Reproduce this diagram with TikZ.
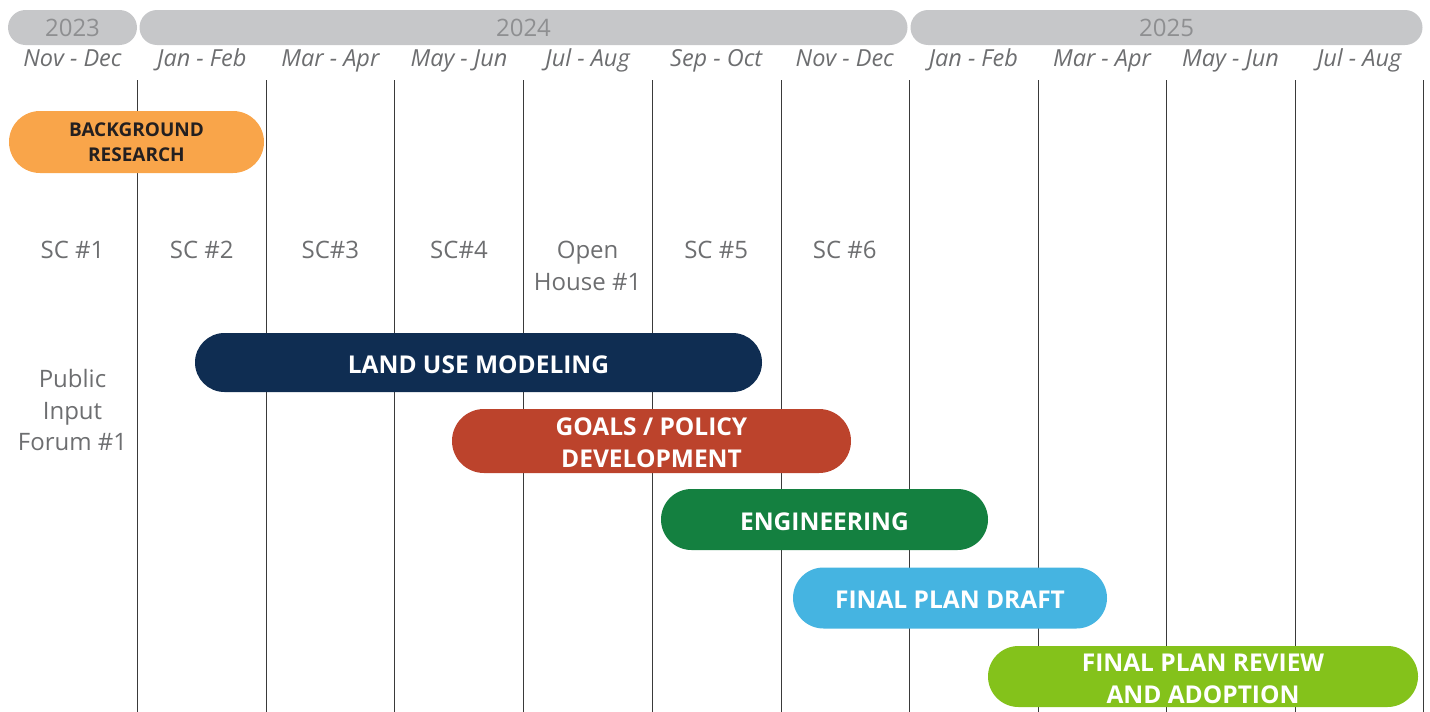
\documentclass[tikz,border=0pt]{standalone}
\usepackage{fontspec}
\setmainfont{Open Sans}
\usetikzlibrary{shapes.misc}
\definecolor{yearbar}{HTML}{C6C7C9}
\definecolor{yeartext}{HTML}{8E8F91}
\definecolor{greytext}{HTML}{6D6E70}
\definecolor{gridline}{HTML}{3A3A3A}
\definecolor{cbg}{HTML}{F9A54A}
\definecolor{cland}{HTML}{0F2D52}
\definecolor{cgoals}{HTML}{BC432C}
\definecolor{ceng}{HTML}{148040}
\definecolor{cdraft}{HTML}{45B4E1}
\definecolor{creview}{HTML}{84C21B}
\definecolor{darktext}{HTML}{231F20}
\newcommand\dn[1]{\raisebox{-2pt}[\height][\depth]{#1}}
\begin{document}
\begin{tikzpicture}[x=1pt,y=-1pt,
  yearbox/.style={rounded rectangle, fill=yearbar, inner sep=0pt, minimum height=35pt,
    text=yeartext, font=\fontsize{24}{28}\selectfont},
  monthlbl/.style={anchor=base, text=greytext, inner sep=0pt, font=\fontsize{23.5}{28}\selectfont\itshape},
  eventlbl/.style={text=greytext, inner sep=0pt, align=center, font=\fontsize{24}{31.5}\selectfont},
  barbox/.style={rounded rectangle, inner sep=0pt, text=white, align=center,
    font=\fontsize{24.5}{32}\selectfont\bfseries},
  grid/.style={draw=gridline, line width=1.1pt}]
\useasboundingbox (0,0) rectangle (1430,712);
% grid lines
\foreach \x in {137.5,266.5,394.5,523.5,652.5,781.5,909.5,1038.5,1166.5,1295.5,1423.5} {
  \draw[grid] (\x,80) -- (\x,712);
}
% year bars
\node[yearbox, minimum width=129pt] (y2023) at (72.5,27.5) {2023};
\node[yearbox, minimum width=768pt] (y2024) at (523.5,27.5) {2024};
\node[yearbox, minimum width=512pt] (y2025) at (1166.5,27.5) {2025};
% month labels
\node[monthlbl] (m1) at (72.5,66) {Nov - Dec};
\node[monthlbl] (m2) at (201.8,66) {Jan - Feb};
\node[monthlbl] (m3) at (330.4,66) {Mar - Apr};
\node[monthlbl] (m4) at (459,66) {May - Jun};
\node[monthlbl] (m5) at (587.6,66) {Jul - Aug};
\node[monthlbl] (m6) at (716.2,66) {Sep - Oct};
\node[monthlbl] (m7) at (844.8,66) {Nov - Dec};
\node[monthlbl] (m8) at (973.4,66) {Jan - Feb};
\node[monthlbl] (m9) at (1102,66) {Mar - Apr};
\node[monthlbl] (m10) at (1230.6,66) {May - Jun};
\node[monthlbl] (m11) at (1359.2,66) {Jul - Aug};
% events
\node[eventlbl, anchor=base] (sc1) at (72.5,258) {SC \#1};
\node[eventlbl, anchor=base] (sc2) at (201.8,258) {SC \#2};
\node[eventlbl, anchor=base] (sc3) at (330.4,258) {SC\#3};
\node[eventlbl, anchor=base] (sc4) at (459,258) {SC\#4};
\node[eventlbl] (oh1) at (587.6,266) {Open\\House \#1};
\node[eventlbl, anchor=base] (sc5) at (716.2,258) {SC \#5};
\node[eventlbl, anchor=base] (sc6) at (844.8,258) {SC \#6};
\node[eventlbl] (pif) at (72.5,410) {Public\\Input\\Forum \#1};
% task bars
\node[barbox, fill=cbg, text=darktext, minimum width=255pt, minimum height=62pt,
  font=\fontsize{19}{25}\selectfont\bfseries] (bg) at (136.5,142) {BACKGROUND\\RESEARCH};
\node[barbox, fill=cland, minimum width=567pt, minimum height=59pt] (land) at (478.5,362.5) {\dn{LAND USE MODELING}};
\node[barbox, fill=cgoals, minimum width=399pt, minimum height=64pt] (goals) at (651.5,441) {\dn{GOALS / POLICY}\\\dn{DEVELOPMENT}};
\node[barbox, fill=ceng, minimum width=327pt, minimum height=61pt] (eng) at (824.5,519.5) {\dn{ENGINEERING}};
\node[barbox, fill=cdraft, minimum width=314pt, minimum height=61pt] (draft) at (950,598) {\dn{FINAL PLAN DRAFT}};
\node[barbox, fill=creview, minimum width=430pt, minimum height=61pt] (review) at (1203,676.5) {\dn{FINAL PLAN REVIEW}\\\dn{AND ADOPTION}};
\end{tikzpicture}
\end{document}
